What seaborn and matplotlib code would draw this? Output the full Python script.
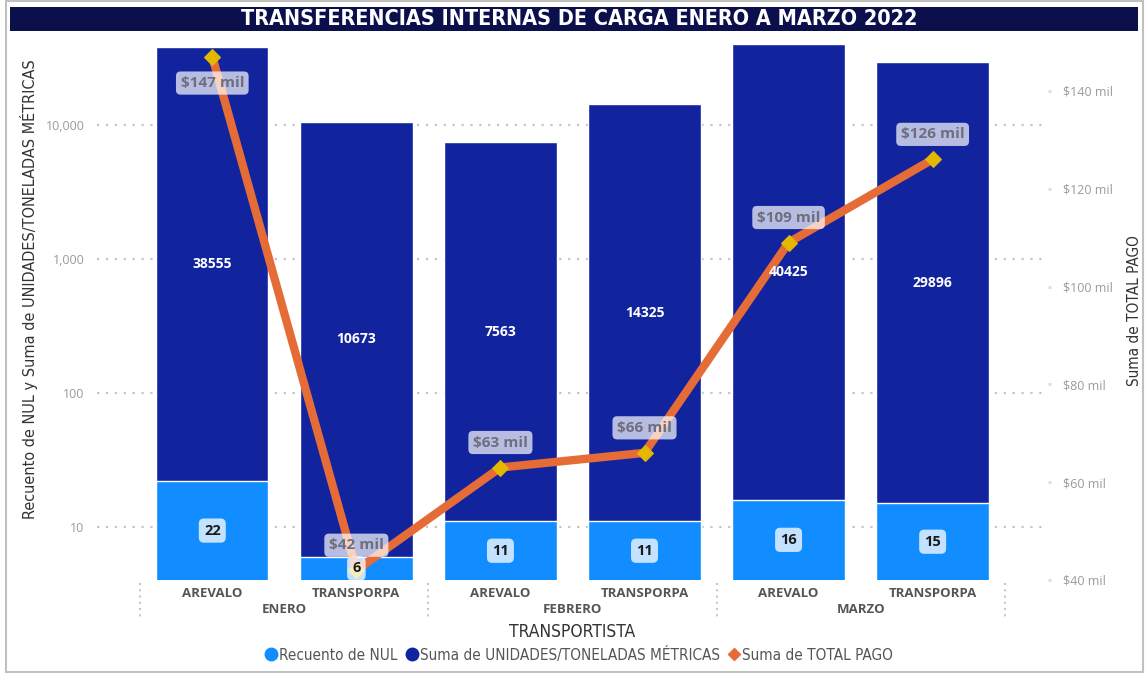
import numpy as np
import pandas as pd
import seaborn as sns
import matplotlib.pyplot as plt
import matplotlib.transforms as mtransforms
from matplotlib.patches import Rectangle
from matplotlib.lines import Line2D
from matplotlib.ticker import FixedLocator, NullLocator
from matplotlib.font_manager import FontProperties

# data
meses = ['ENERO', 'ENERO', 'FEBRERO', 'FEBRERO', 'MARZO', 'MARZO']
transportistas = ['AREVALO', 'TRANSPORPA', 'AREVALO', 'TRANSPORPA', 'AREVALO', 'TRANSPORPA']
recuento_nul = [22, 6, 11, 11, 16, 15]
toneladas = [38555, 10673, 7563, 14325, 40425, 29896]
total_pago_mil = [147, 42, 63, 66, 109, 126]

df = pd.DataFrame({'mes': meses, 'transportista': transportistas,
                   'nul': recuento_nul, 'ton': toneladas, 'pago': total_pago_mil})
df['cat'] = df['mes'] + '|' + df['transportista']
df['total'] = df['nul'] + df['ton']

sns.set_style('white')
plt.rcParams['font.family'] = ['Open Sans', 'DejaVu Sans']


def narrow(size, weight='normal'):
    return FontProperties(family='DejaVu Sans', stretch='condensed', size=size, weight=weight)


light = '#118DFF'
dark = '#12239E'
orange = '#E66C37'

fig = plt.figure(figsize=(11.47, 6.73), dpi=100)
ax = fig.add_axes([0.0846, 0.1382, 0.829, 0.7994])

# stacked bars: dark (total) behind, light (NUL) in front
sns.barplot(data=df, x='cat', y='total', color=dark, saturation=1, width=0.78,
            errorbar=None, ax=ax, zorder=2)
sns.barplot(data=df, x='cat', y='nul', color=light, saturation=1, width=0.78,
            errorbar=None, ax=ax, zorder=3)
ax.set_yscale('log')
ax.set_ylim(4.02, 42000)
ax.set_xlim(-0.8, 5.8)
ax.yaxis.set_major_locator(FixedLocator([10, 100, 1000, 10000]))
ax.yaxis.set_minor_locator(NullLocator())
ax.set_yticklabels(['10', '100', '1,000', '10,000'])
ax.yaxis.grid(True, linestyle=(0, (1, 3)), color='#c4c4c4', linewidth=1.6)
ax.set_axisbelow(True)
for s in ax.spines.values():
    s.set_visible(False)
ax.tick_params(axis='y', length=0, pad=9, labelcolor='#9a9a9a', labelsize=9)
ax.tick_params(axis='x', length=0, pad=5, labelcolor='#555555', labelsize=9.5)
ax.set_xticks(range(len(df)))
ax.set_xticklabels(df['transportista'], fontweight='bold')
ax.set_xlabel('')
ax.set_ylabel('Recuento de NUL y Suma de UNIDADES/TONELADAS MÉTRICAS',
              fontproperties=narrow(11.6), color='#333333')
ax.yaxis.set_label_coords(-0.062, 0.54)

# month group labels and separators below the axis
trans = mtransforms.blended_transform_factory(ax.transData, ax.transAxes)
for mes in df['mes'].unique():
    pos = np.where(df['mes'] == mes)[0]
    ax.text(pos.mean(), -0.054, mes, transform=trans, ha='center', va='center',
            fontsize=9.5, fontweight='bold', color='#555555')
for xs in [-0.5, 1.5, 3.5, 5.5]:
    ax.plot([xs, xs], [-0.006, -0.075], transform=trans, clip_on=False,
            color='#c8c8c8', linestyle=(0, (1, 2)), linewidth=1.5)
ax.text(0.5, -0.0967, 'TRANSPORTISTA', transform=ax.transAxes, ha='center',
        va='center', fontproperties=narrow(12.5), color='#333333')

# line on secondary axis
ax2 = ax.twinx()
sns.lineplot(x=np.arange(len(df)), y=df['pago'], ax=ax2, color=orange,
             linewidth=6, marker='D', markersize=8, markerfacecolor='#E2B800',
             markeredgecolor='#E2B800', zorder=5)
ax2.set_ylim(40, 150)
ax2.set_yticks([40, 60, 80, 100, 120, 140])
ax2.set_yticklabels([f'${v} mil' for v in [40, 60, 80, 100, 120, 140]])
ax2.tick_params(axis='y', length=2, width=2, color='#dddddd', pad=9,
                labelcolor='#9a9a9a', labelsize=9)
for s in ax2.spines.values():
    s.set_visible(False)
ax2.set_ylabel('Suma de TOTAL PAGO', fontproperties=narrow(11), color='#333333')
ax2.yaxis.set_label_coords(1.083, 0.5)
ax2.grid(False)

# bar labels (drawn on ax2 so they sit above the line)
lo = ax.get_ylim()[0]
top2 = ax2.get_ylim()[1]
for i, r in df.iterrows():
    ymid = np.sqrt(r['nul'] * r['total'])
    ax2.text(i, ymid, str(r['ton']), transform=ax.transData, ha='center',
             va='center', color='white', fontweight='bold', fontsize=10, zorder=6)
    ylo = np.sqrt(lo * r['nul'])
    ax2.text(i, ylo, str(r['nul']), transform=ax.transData, ha='center',
             va='center', color='#1a1a1a', fontweight='bold', fontsize=10.5, zorder=6,
             bbox=dict(boxstyle='round,pad=0.35', facecolor='white', alpha=0.75,
                       edgecolor='none'))
    dy = -19 if r['pago'] > top2 - 8 else 18
    ax2.annotate(f"${r['pago']} mil", (i, r['pago']), xytext=(0, dy),
                 textcoords='offset points', ha='center', va='center',
                 color='#6e6e7e', fontweight='bold', fontsize=11, zorder=7,
                 bbox=dict(boxstyle='round,pad=0.3', facecolor='white', alpha=0.7,
                           edgecolor='none'))

# legend
handles = [
    Line2D([], [], linestyle='none', marker='o', markersize=9, color=light),
    Line2D([], [], linestyle='none', marker='o', markersize=9, color=dark),
    Line2D([], [], linestyle='none', marker='D', markersize=6, color=orange),
]
fig.legend(handles, ['Recuento de NUL', 'Suma de UNIDADES/TONELADAS MÉTRICAS',
                     'Suma de TOTAL PAGO'],
           loc='center', bbox_to_anchor=(0.504, 0.027), ncol=3, frameon=False,
           handletextpad=0.05, columnspacing=0.4, handlelength=1.0,
           prop=narrow(11), labelcolor='#555555')

# title bar and frame
fig.patches.append(Rectangle((10 / 1147, 1 - 31 / 673), 1128 / 1147, 24 / 673,
                             transform=fig.transFigure, facecolor='#0B104C',
                             edgecolor='none', zorder=0))
fig.text(0.505, 1 - 19 / 673, 'TRANSFERENCIAS INTERNAS DE CARGA ENERO A MARZO 2022',
         ha='center', va='center', color='white', fontproperties=narrow(15.5, 'bold'))
fig.patches.append(Rectangle((6 / 1147, 1 / 673), 1137 / 1147, 671 / 673,
                             transform=fig.transFigure, facecolor='none',
                             edgecolor='#c0c0c0', linewidth=1.5, zorder=0))

fig.savefig('out.png', dpi=100)
